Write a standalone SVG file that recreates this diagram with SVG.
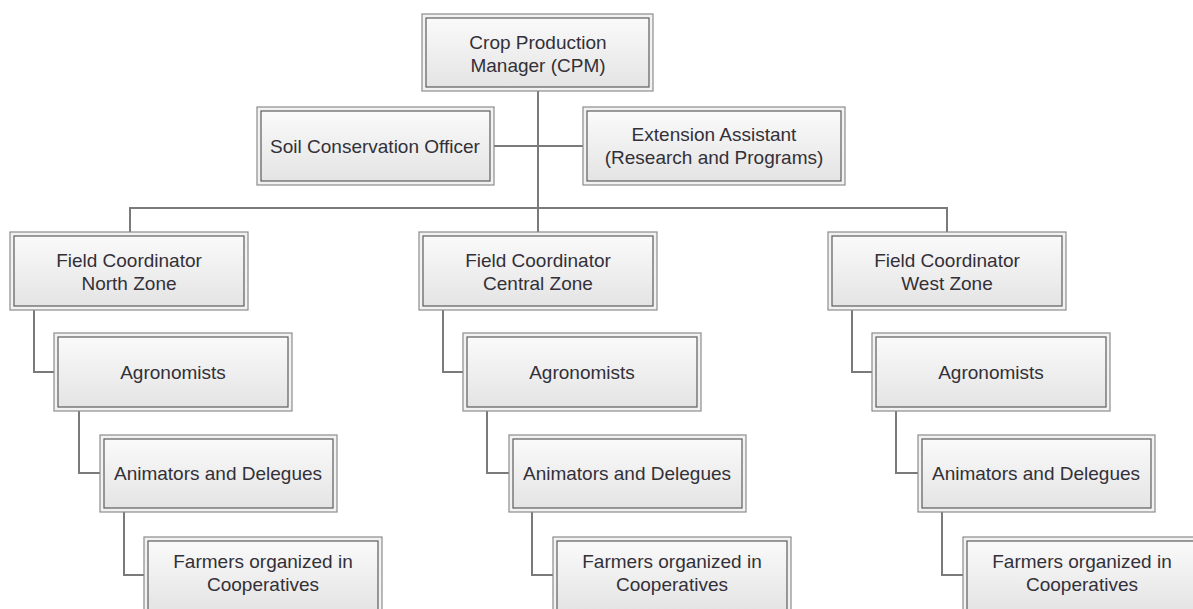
<svg xmlns="http://www.w3.org/2000/svg" width="1193" height="609" viewBox="0 0 1193 609">
<defs>
<linearGradient id="g" x1="0" y1="0" x2="0" y2="1">
<stop offset="0" stop-color="#fafafa"/>
<stop offset="1" stop-color="#e4e4e4"/>
</linearGradient>
<style>
.o{fill:#f2f2f2;stroke:#8c8c8c;stroke-width:1.2}
.i{fill:url(#g);stroke:#5c5c5c;stroke-width:1.2}
text{font-family:"Liberation Sans",Arial,sans-serif;font-size:19px;fill:#333038;text-anchor:middle}
.c{fill:none;stroke:#7a7a7a;stroke-width:2}
</style>
</defs>
<rect width="1193" height="609" fill="#ffffff"/>
<g id="connectors">
<path class="c" d="M538 91V232"/>
<path class="c" d="M494 146H583"/>
<path class="c" d="M130 232V208H947V232"/>
<path class="c" d="M34 310V372H54M79 411V473H100M124 512V575H144"/>
<path class="c" d="M443 310V372H463M487 411V473H509M532 512V575H553"/>
<path class="c" d="M852 310V372H872M896 411V473H918M942 512V575H963"/>
</g>
<g id="cpm"><rect class="o" x="422" y="14" width="231" height="77"/><rect class="i" x="426" y="18" width="223" height="69"/><text x="538" y="49">Crop Production</text><text x="538" y="72">Manager (CPM)</text></g>
<g id="soil"><rect class="o" x="257" y="107" width="237" height="78"/><rect class="i" x="261" y="111" width="229" height="70"/><text x="375" y="153">Soil Conservation Officer</text></g>
<g id="extension"><rect class="o" x="583" y="107" width="262" height="78"/><rect class="i" x="587" y="111" width="254" height="70"/><text x="714" y="141">Extension Assistant</text><text x="714" y="164">(Research and Programs)</text></g>
<g id="fc-north"><rect class="o" x="10" y="232" width="238" height="78"/><rect class="i" x="14" y="236" width="230" height="70"/><text x="129" y="267">Field Coordinator</text><text x="129" y="290">North Zone</text></g>
<g id="fc-central"><rect class="o" x="419" y="232" width="238" height="78"/><rect class="i" x="423" y="236" width="230" height="70"/><text x="538" y="267">Field Coordinator</text><text x="538" y="290">Central Zone</text></g>
<g id="fc-west"><rect class="o" x="828" y="232" width="238" height="78"/><rect class="i" x="832" y="236" width="230" height="70"/><text x="947" y="267">Field Coordinator</text><text x="947" y="290">West Zone</text></g>
<g id="agro-north"><rect class="o" x="54" y="333" width="238" height="78"/><rect class="i" x="58" y="337" width="230" height="70"/><text x="173" y="379">Agronomists</text></g>
<g id="agro-central"><rect class="o" x="463" y="333" width="238" height="78"/><rect class="i" x="467" y="337" width="230" height="70"/><text x="582" y="379">Agronomists</text></g>
<g id="agro-west"><rect class="o" x="872" y="333" width="238" height="78"/><rect class="i" x="876" y="337" width="230" height="70"/><text x="991" y="379">Agronomists</text></g>
<g id="anim-north"><rect class="o" x="100" y="435" width="237" height="77"/><rect class="i" x="104" y="439" width="229" height="69"/><text x="218" y="480">Animators and Delegues</text></g>
<g id="anim-central"><rect class="o" x="509" y="435" width="237" height="77"/><rect class="i" x="513" y="439" width="229" height="69"/><text x="627" y="480">Animators and Delegues</text></g>
<g id="anim-west"><rect class="o" x="918" y="435" width="237" height="77"/><rect class="i" x="922" y="439" width="229" height="69"/><text x="1036" y="480">Animators and Delegues</text></g>
<g id="farm-north"><rect class="o" x="144" y="537" width="238" height="78"/><rect class="i" x="148" y="541" width="230" height="70"/><text x="263" y="568">Farmers organized in</text><text x="263" y="591">Cooperatives</text></g>
<g id="farm-central"><rect class="o" x="553" y="537" width="238" height="78"/><rect class="i" x="557" y="541" width="230" height="70"/><text x="672" y="568">Farmers organized in</text><text x="672" y="591">Cooperatives</text></g>
<g id="farm-west"><rect class="o" x="963" y="537" width="238" height="78"/><rect class="i" x="967" y="541" width="230" height="70"/><text x="1082" y="568">Farmers organized in</text><text x="1082" y="591">Cooperatives</text></g>
</svg>
